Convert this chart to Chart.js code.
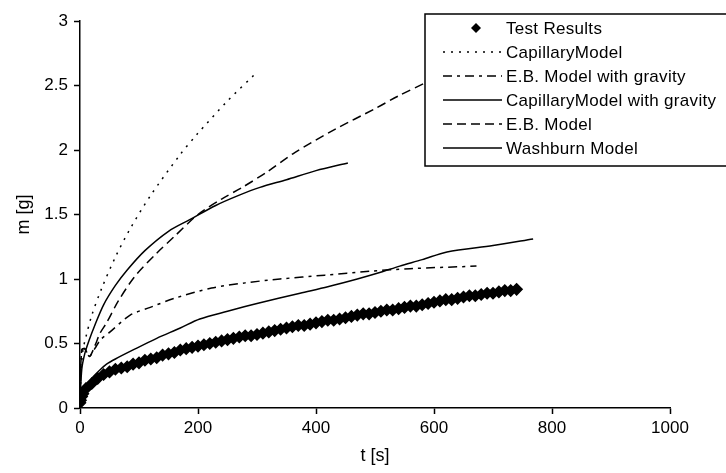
<!DOCTYPE html>
<html>
<head>
<meta charset="utf-8">
<script src="https://cdn.jsdelivr.net/npm/chart.js@4/dist/chart.umd.min.js"></script>
<style>
  html, body { margin: 0; padding: 0; background: #fff; }
  #wrap { width: 726px; height: 473px; }
</style>
</head>
<body>
<div id="wrap"><canvas id="chart" width="726" height="473"></canvas></div>
<script>
// Measured uptake m [g] over time t [s]
const testT = [0, 1, 3, 5,
    10, 20, 30, 40, 50, 60, 70, 80, 90, 100,
    110, 120, 130, 140, 150, 160, 170, 180, 190, 200,
    210, 220, 230, 240, 250, 260, 270, 280, 290, 300,
    310, 320, 330, 340, 350, 360, 370, 380, 390, 400,
    410, 420, 430, 440, 450, 460, 470, 480, 490, 500,
    510, 520, 530, 540, 550, 560, 570, 580, 590, 600,
    610, 620, 630, 640, 650, 660, 670, 680, 690, 700,
    710, 720, 730, 740];
const testM = [0.04, 0.06, 0.09, 0.11,
    0.15, 0.19, 0.23, 0.26, 0.28, 0.30, 0.31, 0.32, 0.34, 0.35,
    0.37, 0.38, 0.39, 0.41, 0.42, 0.43, 0.45, 0.46, 0.47, 0.48,
    0.49, 0.50, 0.51, 0.52, 0.53, 0.54, 0.55, 0.56, 0.56, 0.57,
    0.58, 0.59, 0.60, 0.61, 0.62, 0.63, 0.64, 0.64, 0.65, 0.66,
    0.67, 0.68, 0.68, 0.69, 0.70, 0.71, 0.72, 0.73, 0.73, 0.74,
    0.75, 0.76, 0.76, 0.77, 0.78, 0.79, 0.79, 0.80, 0.81, 0.82,
    0.83, 0.84, 0.84, 0.85, 0.86, 0.87, 0.87, 0.88, 0.89, 0.89,
    0.90, 0.91, 0.91, 0.92];

// Model curves
const capT = [0, 2, 5, 10, 20, 37, 60, 85, 120, 169, 198, 250, 297];
const capM = [0, 0.3, 0.45, 0.55, 0.72, 0.93, 1.17, 1.39, 1.65, 1.96, 2.12, 2.38, 2.59];

const ebgT = [0, 3, 8, 16, 25, 35, 51, 85, 119, 160, 223, 280, 339, 415, 490, 559, 672];
const ebgM = [0.1, 0.45, 0.46, 0.40, 0.46, 0.53, 0.59, 0.72, 0.78, 0.85, 0.93, 0.97, 1.00, 1.03, 1.06, 1.08, 1.10];

const capgT = [0, 3, 8, 15, 25, 40, 60, 80, 110, 150, 186, 230, 270, 305, 350, 400, 454];
const capgM = [0.05, 0.3, 0.42, 0.52, 0.64, 0.80, 0.95, 1.07, 1.22, 1.37, 1.46, 1.57, 1.65, 1.71, 1.77, 1.84, 1.90];

const ebT = [0, 3, 8, 16, 25, 34, 45, 65, 93, 130, 160, 200, 240, 275, 317, 364, 432, 500, 540, 585];
const ebM = [0.1, 0.45, 0.46, 0.40, 0.48, 0.58, 0.66, 0.83, 1.02, 1.20, 1.33, 1.50, 1.62, 1.71, 1.83, 1.98, 2.16, 2.32, 2.42, 2.52];

const washT = [0, 10, 20, 35, 45, 60, 90, 130, 170, 203, 250, 300, 373, 420, 470, 508, 542, 580, 622, 700, 768];
const washM = [0.05, 0.17, 0.23, 0.30, 0.34, 0.38, 0.45, 0.54, 0.62, 0.69, 0.75, 0.81, 0.89, 0.94, 1.00, 1.05, 1.10, 1.15, 1.21, 1.26, 1.31];

const xTicks = [0, 200, 400, 600, 800, 1000];
const yTicks = [0, 0.5, 1, 1.5, 2, 2.5, 3];

const FONT = "'Liberation Sans', Arial, sans-serif";
const pts = (t, m) => t.map((v, i) => ({ x: v, y: m[i] }));

const line = (label, t, m, dash) => ({
    label: label,
    data: pts(t, m),
    showLine: true,
    borderColor: '#000',
    borderWidth: 1.5,
    borderDash: dash,
    pointRadius: 0,
    tension: 0.3,
    fill: false
});

const datasets = [
    {
        label: 'Test Results',
        data: pts(testT, testM),
        showLine: false,
        pointStyle: 'rectRot',
        pointRadius: 5.5,
        backgroundColor: '#000',
        borderColor: '#000',
        borderWidth: 1.5
    },
    line('CapillaryModel', capT, capM, [2, 6]),
    line('E.B. Model with gravity', ebgT, ebgM, [9, 5, 3, 5]),
    line('CapillaryModel with gravity', capgT, capgM, []),
    line('E.B. Model', ebT, ebM, [9, 5]),
    line('Washburn Model', washT, washM, [])
];

// boxed legend in the top right corner, partly running off the edge
const boxLegend = {
    id: 'boxLegend',
    afterDraw(chart) {
        const ctx = chart.ctx;
        const left = 425, top = 14, bottom = 166, rowH = 24, firstRow = 28;
        ctx.save();
        ctx.fillStyle = '#fff';
        ctx.fillRect(left, top, 310, bottom - top);
        ctx.strokeStyle = '#000';
        ctx.lineWidth = 1.5;
        ctx.strokeRect(left, top, 310, bottom - top);
        ctx.font = '17px ' + FONT;
        ctx.letterSpacing = '0.3px';
        ctx.textBaseline = 'middle';
        ctx.fillStyle = '#000';
        chart.data.datasets.forEach((ds, i) => {
            const y = firstRow + i * rowH;
            if (ds.showLine === false) {
                ctx.beginPath();
                ctx.moveTo(476, y - 5);
                ctx.lineTo(481, y);
                ctx.lineTo(476, y + 5);
                ctx.lineTo(471, y);
                ctx.closePath();
                ctx.fill();
            } else {
                ctx.beginPath();
                ctx.setLineDash(ds.borderDash || []);
                ctx.lineWidth = 1.5;
                ctx.moveTo(443, y);
                ctx.lineTo(502, y);
                ctx.stroke();
                ctx.setLineDash([]);
            }
            ctx.fillText(ds.label, 506, y + 1);
        });
        ctx.restore();
    }
};

new Chart(document.getElementById('chart'), {
    type: 'scatter',
    data: { datasets: datasets },
    plugins: [boxLegend],
    options: {
        responsive: false,
        animation: false,
        layout: { padding: { top: 21, right: 56, left: 0, bottom: 0 } },
        plugins: { legend: { display: false }, tooltip: { enabled: false } },
        scales: {
            x: {
                type: 'linear',
                min: 0, max: 1000,
                afterBuildTicks: s => { s.ticks = xTicks.map(v => ({ value: v })); },
                afterFit: s => { s.height = 65; },
                grid: { drawOnChartArea: false, color: '#000', tickLength: 6, tickWidth: 1.5 },
                border: { color: '#000', width: 1.5 },
                ticks: { color: '#000', font: { family: FONT, size: 17 }, padding: 4, maxRotation: 0, callback: v => String(v) },
                title: { display: true, text: 't [s]', color: '#000', font: { family: FONT, size: 18 }, padding: { top: 0, bottom: 6 } }
            },
            y: {
                type: 'linear',
                min: 0, max: 3,
                afterBuildTicks: s => { s.ticks = yTicks.map(v => ({ value: v })); },
                afterFit: s => { s.width = 80; },
                grid: { drawOnChartArea: false, color: '#000', tickLength: 6, tickWidth: 1.5 },
                border: { color: '#000', width: 1.5 },
                ticks: { color: '#000', font: { family: FONT, size: 17 }, padding: 6, callback: v => String(v) },
                title: { display: true, text: 'm [g]', color: '#000', font: { family: FONT, size: 18 }, padding: { top: 13, bottom: 0 } }
            }
        }
    }
});
</script>
</body>
</html>
